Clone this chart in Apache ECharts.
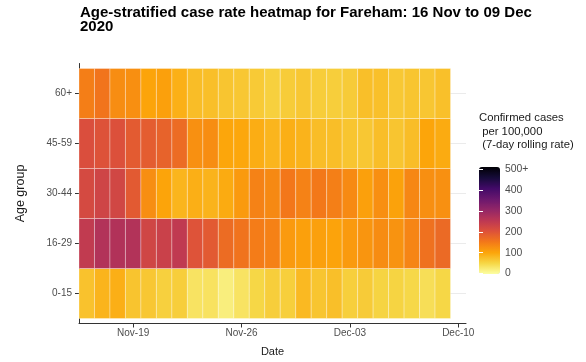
<!DOCTYPE html>
<html>
<head>
<meta charset="utf-8">
<script src="https://cdn.jsdelivr.net/npm/echarts@6/dist/echarts.min.js"></script>
<style>
html,body{margin:0;padding:0;background:#fff;}
#chart{width:586px;height:362px;}
</style>
</head>
<body>
<div id="chart"></div>
<script>
// ---- data ----
const dates = ['2020-11-16','2020-11-17','2020-11-18','2020-11-19','2020-11-20','2020-11-21','2020-11-22','2020-11-23',
  '2020-11-24','2020-11-25','2020-11-26','2020-11-27','2020-11-28','2020-11-29','2020-11-30','2020-12-01',
  '2020-12-02','2020-12-03','2020-12-04','2020-12-05','2020-12-06','2020-12-07','2020-12-08','2020-12-09'];
const ageGroups = ['0-15','16-29','30-44','45-59','60+'];
const rate0to15 = [71,85,90,69,66,57,59,35,36,21,35,50,59,58,80,68,74,58,62,53,53,49,41,50];
const rate16to29 = [242,262,264,262,221,231,244,198,188,165,156,146,140,112,106,106,102,112,118,128,120,136,159,168];
const rate30to44 = [213,223,219,188,126,101,84,90,86,94,112,139,131,151,139,150,142,130,106,124,103,133,124,123];
const rate45to59 = [205,199,201,187,185,177,166,123,127,99,98,92,84,90,86,76,75,68,66,75,68,76,100,94];
const rate60plus = [143,155,127,124,101,106,89,76,74,68,66,63,57,61,66,60,59,62,74,73,65,68,67,73];
const ratesByGroup = [rate0to15, rate16to29, rate30to44, rate45to59, rate60plus];
const xTickDates = ['2020-11-19','2020-11-26','2020-12-03','2020-12-10'];
const xTickLabels = ['Nov-19','Nov-26','Dec-03','Dec-10'];
const legendTicks = [0,100,200,300,400,500];
const legendTickLabels = ['0','100','200','300','400','500+'];
const infernoReversed = ['#FCFFA4','#F6D746','#FCA50A','#F37819','#DD513A','#BC3754','#932667','#6A176E','#420A68','#160B39','#000004'];

// ---- build ----
const DAY = 86400000;
const t0 = Date.parse(dates[0]);
const dayIndex = d => Math.round((Date.parse(d) - t0) / DAY);
const xTickIdx = xTickDates.map(dayIndex);
const heatData = [];
ratesByGroup.forEach((arr, g) => {
  arr.forEach((v, i) => heatData.push([dayIndex(dates[i]), g + 1, v]));
});
const FONT = '"Liberation Sans", Arial, sans-serif';

const chart = echarts.init(document.getElementById('chart'), null, {renderer: 'canvas'});
chart.setOption({
  backgroundColor: '#fff',
  animation: false,
  textStyle: {fontFamily: FONT},
  title: [
    {
      text: 'Age-stratified case rate heatmap for Fareham: 16 Nov to 09 Dec\n2020',
      left: 80, top: 6, padding: 0,
      textStyle: {fontFamily: FONT, fontSize: 15, fontWeight: 'bold', color: '#000', lineHeight: 14}
    },
    {
      text: 'Confirmed cases\n per 100,000\n (7-day rolling rate)',
      left: 479, top: 111.5, padding: 0,
      textStyle: {fontFamily: FONT, fontSize: 11.3, fontWeight: 'normal', color: '#1a1a1a', lineHeight: 13.5}
    }
  ],
  grid: [
    {left: 79, top: 63.5, width: 387, height: 260},
    {left: 479, top: 169.5, width: 21, height: 104}
  ],
  xAxis: [
    {
      type: 'value', gridIndex: 0, min: -0.5, max: 24.5,
      axisLine: {show: true, onZero: false, lineStyle: {color: '#333', width: 1}},
      axisTick: {show: true, customValues: xTickIdx, length: 4, lineStyle: {color: '#333'}},
      axisLabel: {customValues: xTickIdx, margin: 5, fontSize: 10, color: '#4d4d4d', fontFamily: FONT,
        formatter: v => xTickLabels[xTickIdx.indexOf(Math.round(v))] || ''},
      splitLine: {show: false},
      name: 'Date', nameLocation: 'middle', nameGap: 22.5,
      nameTextStyle: {fontSize: 11, color: '#1a1a1a', fontFamily: FONT}
    },
    {type: 'value', gridIndex: 1, show: false, min: 0, max: 1}
  ],
  yAxis: [
    {
      type: 'value', gridIndex: 0, min: 0.4, max: 5.6,
      axisLine: {show: true, onZero: false, lineStyle: {color: '#333', width: 1}},
      axisTick: {show: true, customValues: [1,2,3,4,5], length: 4, lineStyle: {color: '#333'}},
      axisLabel: {customValues: [1,2,3,4,5], margin: 7, fontSize: 10, color: '#4d4d4d', fontFamily: FONT,
        formatter: v => ageGroups[Math.round(v) - 1] || ''},
      splitLine: {show: true, lineStyle: {color: '#ebebeb', width: 1}},
      name: 'Age group', nameLocation: 'middle', nameRotate: 90, nameGap: 52,
      nameTextStyle: {fontSize: 12.5, color: '#1a1a1a', fontFamily: FONT}
    },
    {
      type: 'value', gridIndex: 1, min: 0, max: 500, interval: 100, position: 'right', z: 10,
      axisLine: {show: false},
      axisTick: {show: true, inside: true, length: 4, lineStyle: {color: '#fff', width: 1}},
      axisLabel: {margin: 5, fontSize: 10.4, color: '#4d4d4d', fontFamily: FONT,
        formatter: v => legendTickLabels[legendTicks.indexOf(v)]},
      splitLine: {show: false}
    },
    {
      type: 'value', gridIndex: 1, min: 0, max: 500, interval: 100, position: 'left', z: 10,
      axisLine: {show: false},
      axisTick: {show: true, inside: true, length: 4, lineStyle: {color: '#fff', width: 1}},
      axisLabel: {show: false},
      splitLine: {show: false}
    }
  ],
  visualMap: {
    type: 'continuous', min: 0, max: 500, dimension: 2, seriesIndex: 0,
    inRange: {color: infernoReversed},
    orient: 'vertical', left: 479, top: 167, itemWidth: 21, itemHeight: 107,
    padding: 0, text: null, calculable: false, realtime: false, hoverLink: false
  },
  series: [
    {
      type: 'custom', xAxisIndex: 0, yAxisIndex: 0,
      encode: {x: 0, y: 1},
      data: heatData,
      renderItem: (params, api) => {
        const x = api.value(0), y = api.value(1);
        const p0 = api.coord([x - 0.5, y + 0.5]);
        const p1 = api.coord([x + 0.5, y - 0.5]);
        return {
          type: 'rect',
          shape: {x: p0[0], y: p0[1], width: p1[0] - p0[0], height: p1[1] - p0[1]},
          style: {fill: api.visual('color'), stroke: 'rgba(255,255,255,0.3)', lineWidth: 1}
        };
      }
    },
    {type: 'scatter', xAxisIndex: 1, yAxisIndex: 1, data: [], silent: true}
  ]
});
</script>
</body>
</html>
